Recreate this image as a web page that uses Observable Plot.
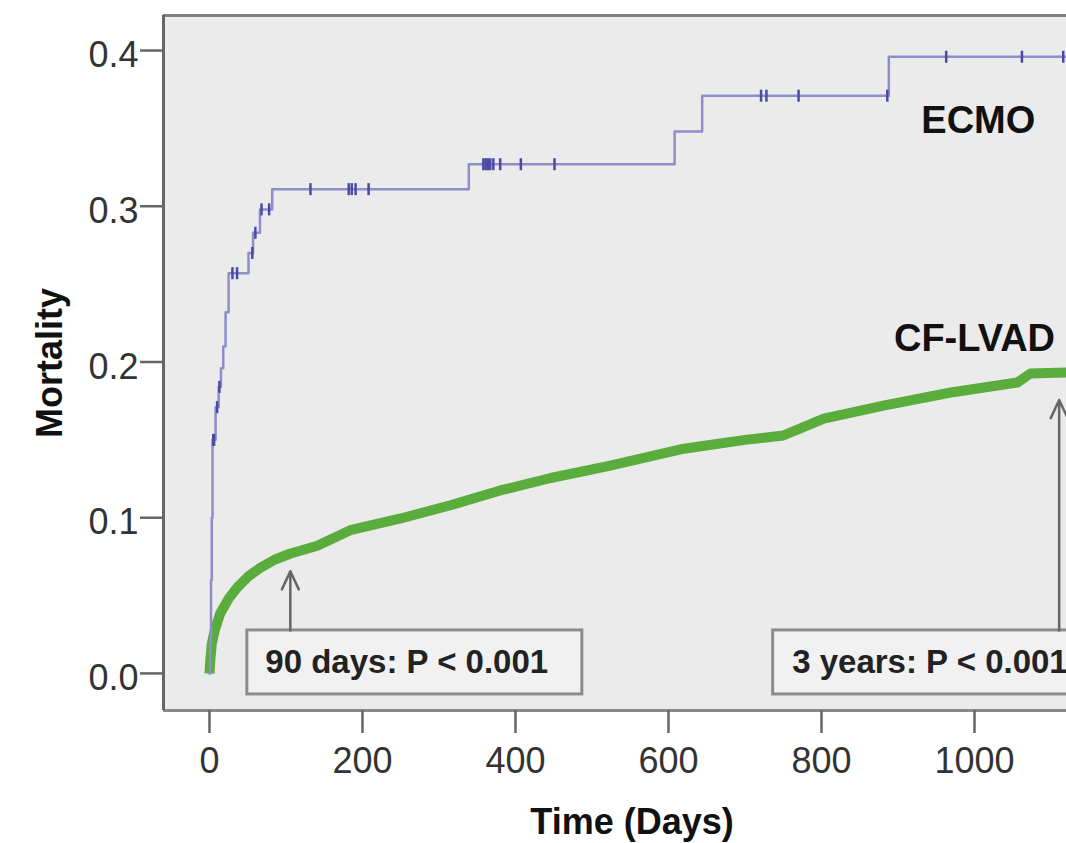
<!DOCTYPE html>
<html>
<head>
<meta charset="utf-8">
<script src="https://cdn.jsdelivr.net/npm/d3@7"></script>
<script src="https://cdn.jsdelivr.net/npm/@observablehq/plot@0.6"></script>
<style>
  html, body { margin: 0; padding: 0; overflow: hidden; background: #fff; }
  #chart svg { display: block; max-width: none !important; height: 843px !important; }
</style>
</head>
<body>
<div id="chart"></div>
<script>
// ---------- data ----------
const seriesNames = ["ECMO", "CF-LVAD"];

// ECMO cumulative mortality (step changes)
const ecmoDays   = [0, 1, 2, 3, 4, 8, 12, 15, 18, 21, 25, 51, 57, 66, 82, 339, 608, 644, 888, 1165];
const ecmoValues = [0, 0.02, 0.06, 0.10, 0.15, 0.171, 0.184, 0.196, 0.21, 0.232, 0.257, 0.270, 0.283, 0.298, 0.311, 0.327, 0.348, 0.371, 0.396, 0.396];

// ECMO censored observations
const ecmoCensorDays   = [5, 6, 10, 13, 30, 36, 56, 60, 68, 78, 132, 182, 186, 191, 208, 358, 361, 364, 367, 371, 380, 407, 451, 721, 728, 770, 886, 963, 1062, 1116];
const ecmoCensorValues = [0.15, 0.15, 0.171, 0.184, 0.257, 0.257, 0.270, 0.283, 0.298, 0.298, 0.311, 0.311, 0.311, 0.311, 0.311, 0.327, 0.327, 0.327, 0.327, 0.327, 0.327, 0.327, 0.327, 0.371, 0.371, 0.371, 0.371, 0.396, 0.396, 0.396];

// CF-LVAD cumulative mortality
const lvadDays   = [0, 1, 3, 7, 14, 25, 36, 50, 67, 85, 106, 141, 184, 250, 315, 380, 446, 524, 620, 700, 750, 803, 881, 969, 1056, 1073, 1120, 1165];
const lvadValues = [0, 0.008, 0.019, 0.028, 0.0385, 0.048, 0.055, 0.062, 0.068, 0.073, 0.077, 0.082, 0.092, 0.0995, 0.108, 0.1175, 0.1255, 0.1335, 0.1443, 0.150, 0.1528, 0.1637, 0.172, 0.1804, 0.1868, 0.1926, 0.1933, 0.194];

// Annotations (landmark analyses)
const annLabels = ["90 days: P < 0.001", "3 years: P < 0.001"];
const annDays   = [90, 1095];

// Axis ticks
const xTicks = [0, 200, 400, 600, 800, 1000];
const yTicks = [0, 0.1, 0.2, 0.3, 0.4];

// ---------- tables ----------
const ecmo = ecmoDays.map((d, i) => ({day: d, value: ecmoValues[i]}));
const ecmoCensor = ecmoCensorDays.map((d, i) => ({day: d, value: ecmoCensorValues[i]}));
const lvad = lvadDays.map((d, i) => ({day: d, value: lvadValues[i]}));
const lvadAt = (day) => {
  const i = d3.bisectRight(lvadDays, day);
  if (i <= 0) return lvadValues[0];
  if (i >= lvadDays.length) return lvadValues[lvadValues.length - 1];
  const t = (day - lvadDays[i - 1]) / (lvadDays[i] - lvadDays[i - 1]);
  return lvadValues[i - 1] + t * (lvadValues[i] - lvadValues[i - 1]);
};
const annotations = annLabels.map((label, i) => ({label, day: annDays[i], curve: lvadAt(annDays[i])}));

// per-annotation layout (pixels)
const annLayout = [
  {boxLeft: 31, boxRight: 304, textDx: -13, tipGap: 13},
  {boxLeft: 274, boxRight: 53, textDx: -255, tipGap: 27}
];

const font = "'Liberation Sans', Arial, Helvetica, sans-serif";
const tickMark = {
  draw(context, size) {
    const r = Math.sqrt(size / Math.PI);
    context.moveTo(0, -r);
    context.lineTo(0, r);
  }
};

const annMarks = annotations.flatMap((a, i) => {
  const L = annLayout[i];
  return [
    Plot.rect([a], {x1: "day", x2: "day", y1: 0, y2: 0,
      insetLeft: -L.boxLeft, insetRight: -L.boxRight, insetTop: -43, insetBottom: -21,
      fill: "#f1f1f1", stroke: "#8c8c8c", strokeWidth: 3}),
    Plot.text([a], {x: "day", y: 0, text: "label", textAnchor: "start", dx: L.textDx, dy: -11,
      fontSize: 33, fontWeight: "bold", fill: "#222", fontFamily: font}),
    Plot.arrow([a], {x1: "day", x2: "day", y1: 0, y2: "curve", dx: 12,
      insetStart: 43, insetEnd: L.tipGap, stroke: "#666", strokeWidth: 2.5, headLength: 12, headAngle: 50})
  ];
});

const chart = Plot.plot({
  width: 1100,
  height: 843,
  marginLeft: 163,
  marginRight: 0,
  marginTop: 15,
  marginBottom: 133,
  style: {fontFamily: font, background: "#fff"},
  x: {domain: [-60.1, 1164.7]},
  y: {domain: [-0.0238, 0.4225]},
  marks: [
    Plot.frame({fill: "#ebebeb", stroke: null}),
    Plot.ruleY([0.4225], {stroke: "#808080", strokeWidth: 3}),
    Plot.ruleY([-0.0238], {stroke: "#8a8a8a", strokeWidth: 3}),
    Plot.ruleX([-60.1], {stroke: "#666", strokeWidth: 3}),
    // y axis: ticks only, then labels only
    Plot.axisY({ticks: yTicks, tickSize: 23, stroke: "#666", strokeWidth: 2.5, fill: "none", label: null, tickFormat: d3.format(".1f")}),
    Plot.axisY({ticks: yTicks, tickSize: 23, tickPadding: 2, strokeOpacity: 0, tickFormat: d3.format(".1f"), fontSize: 36, fill: "#333", dy: 5, label: null}),
    // x axis
    Plot.axisX({ticks: xTicks, tickSize: 23, tickPadding: 14, tickFormat: d3.format("d"), fontSize: 36, fill: "#333", stroke: "#666", strokeWidth: 2.5, label: null}),
    Plot.text(["Mortality"], {frameAnchor: "left", textAnchor: "middle", dx: -113, rotate: -90, fontSize: 36, fontWeight: "bold", fill: "#111"}),
    Plot.text(["Time (Days)"], {frameAnchor: "bottom", dy: 123, fontSize: 36, fontWeight: "bold", fill: "#111"}),
    // CF-LVAD
    Plot.line(lvad, {x: "day", y: "value", stroke: "#5aac3c", strokeWidth: 10, curve: "linear", strokeLinecap: "butt"}),
    // ECMO
    Plot.line(ecmo, {x: "day", y: "value", stroke: "#8e8ecb", strokeWidth: 2.5, curve: "step-after"}),
    Plot.dot(ecmoCensor, {x: "day", y: "value", symbol: tickMark, r: 6, stroke: "#4a4aa6", strokeWidth: 2.5, fill: "none"}),
    // series labels
    Plot.text([seriesNames[0]], {x: 1005, y: 0.355, fontSize: 38, fontWeight: "bold", fill: "#111"}),
    Plot.text([seriesNames[1]], {x: 1000, y: 0.215, fontSize: 38, fontWeight: "bold", fill: "#111"}),
    ...annMarks
  ]
});
document.getElementById("chart").appendChild(chart);
</script>
</body>
</html>
